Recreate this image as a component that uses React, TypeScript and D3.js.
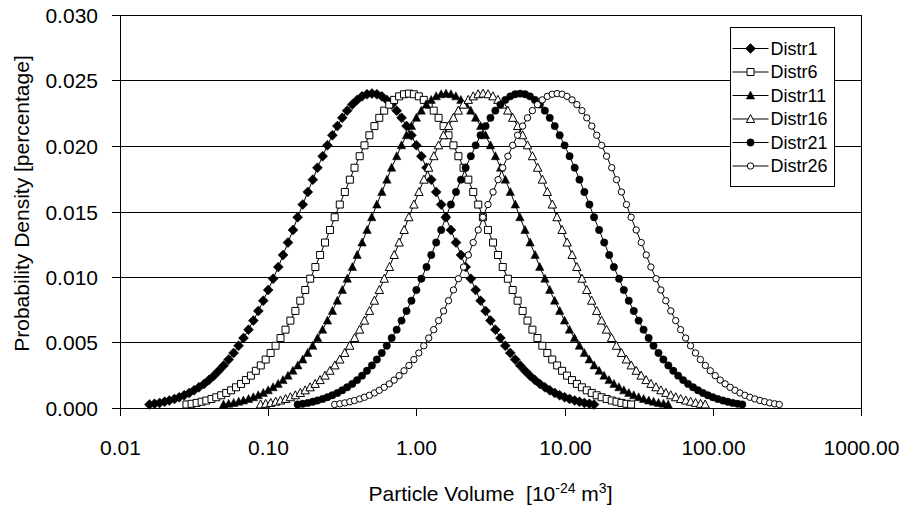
import * as d3 from 'd3';
import { useMemo } from 'react';

// RENDERING SETUP
const W = 906;
const H = 505;
const MARGIN = { TOP: 15, RIGHT: 45, BOTTOM: 97, LEFT: 120 };
const WIDTH = W - MARGIN.LEFT - MARGIN.RIGHT;
const HEIGHT = H - MARGIN.TOP - MARGIN.BOTTOM;
const FONT = '"Liberation Sans", Arial, Helvetica, sans-serif';

// DATA
const SERIES = ['Distr1', 'Distr6', 'Distr11', 'Distr16', 'Distr21', 'Distr26'];
// each distribution is Distr1 moved along the volume axis (peaks ~0.5, 0.89, 1.58, 2.81, 5.0, 8.9)
const SHIFT = [1, 1.778, 3.162, 5.623, 10, 17.78];
// volume bins of Distr1 [10^-24 m^3]
const VOLUME = [
  0.0158, 0.0171, 0.0185, 0.02, 0.0215, 0.0233, 0.0251, 0.0271, 0.0293, 0.0316,
  0.0341, 0.0369, 0.0398, 0.043, 0.0464, 0.0501, 0.0541, 0.0584, 0.0631, 0.0681,
  0.0736, 0.0794, 0.0858, 0.0926,
  0.1, 0.108, 0.117, 0.126, 0.136, 0.147, 0.158, 0.171, 0.185, 0.2,
  0.215, 0.233, 0.251, 0.271, 0.293, 0.316, 0.341, 0.369, 0.398, 0.43,
  0.464, 0.501, 0.541, 0.584, 0.631, 0.681, 0.736, 0.794, 0.858, 0.926,
  1.0, 1.08, 1.17, 1.26, 1.36, 1.47, 1.58, 1.71, 1.85, 2.0,
  2.15, 2.33, 2.51, 2.71, 2.93, 3.16, 3.41, 3.69, 3.98, 4.3,
  4.64, 5.01, 5.41, 5.84, 6.31, 6.81, 7.36, 7.94, 8.58, 9.26,
  10.0, 10.8, 11.7, 12.6, 13.6, 14.7, 15.8,
];
// probability density on those bins (same shape for every distribution)
const DENSITY = [
  0.00027, 0.00032, 0.00039, 0.00048, 0.00057, 0.00069, 0.00082, 0.00097, 0.00115, 0.00135,
  0.00158, 0.00184, 0.00213, 0.00247, 0.00284, 0.00325, 0.0037, 0.0042, 0.00475, 0.00534,
  0.00598, 0.00667, 0.00741, 0.00819, 0.00901, 0.00987, 0.01076, 0.01168, 0.01263, 0.01359,
  0.01456, 0.01553, 0.01649, 0.01743, 0.01834, 0.01922, 0.02005, 0.02082, 0.02152, 0.02215,
  0.0227, 0.02316, 0.02352, 0.02379, 0.02395, 0.024,
  0.02395, 0.02379, 0.02352, 0.02316, 0.0227, 0.02215, 0.02152, 0.02082, 0.02005, 0.01922,
  0.01834, 0.01743, 0.01649, 0.01553, 0.01456, 0.01359, 0.01263, 0.01168, 0.01076, 0.00987,
  0.00901, 0.00819, 0.00741, 0.00667, 0.00598, 0.00534, 0.00475, 0.0042, 0.0037, 0.00325,
  0.00284, 0.00247, 0.00213, 0.00184, 0.00158, 0.00135, 0.00115, 0.00097, 0.00082, 0.00069,
  0.00057, 0.00048, 0.00039, 0.00032, 0.00027,
];
const X_TICKS = [0.01, 0.1, 1, 10, 100, 1000];
const X_LABELS = ['0.01', '0.10', '1.00', '10.00', '100.00', '1000.00'];
const Y_TICKS = [0, 0.005, 0.01, 0.015, 0.02, 0.025, 0.03];

// marker style per series
const SHAPE = ['diamond', 'square', 'triangle', 'triangle', 'circle', 'circle'];
const FILLED = [true, false, true, false, true, false];

const markerPath = (shape: string, filled: boolean) => {
  if (shape === 'diamond') return 'M0,-5L5,0L0,5L-5,0Z';
  if (shape === 'square') return 'M-3.5,-3.5H3.5V3.5H-3.5Z';
  if (shape === 'triangle') return 'M0,-4.5L4.2,3.5L-4.2,3.5Z';
  const r = filled ? 3.7 : 3.2;
  return `M${-r},0A${r},${r} 0 1,0 ${r},0A${r},${r} 0 1,0 ${-r},0Z`;
};

const Marker = ({ i, x, y }: { i: number; x: number; y: number }) => (
  <path
    d={markerPath(SHAPE[i], FILLED[i])}
    transform={`translate(${x},${y})`}
    fill={FILLED[i] ? '#000' : '#fff'}
    stroke="#000"
    strokeWidth={FILLED[i] ? 0.5 : 1}
  />
);

export default function App() {
  const x = useMemo(() => d3.scaleLog().domain([0.01, 1000]).range([0, WIDTH]), []);
  const y = useMemo(() => d3.scaleLinear().domain([0, 0.03]).range([HEIGHT, 0]), []);

  const data = useMemo(
    () =>
      SERIES.map((name, s) => ({
        name,
        points: VOLUME.map((v, i) => ({ v: v * SHIFT[s], p: DENSITY[i] })),
      })),
    []
  );

  const line = d3
    .line<{ v: number; p: number }>()
    .x((d) => x(d.v))
    .y((d) => y(d.p));

  const fmt = d3.format('.3f');

  return (
    <svg
      width={W}
      height={H}
      style={{ position: 'absolute', left: 0, top: 0, background: '#fff' }}
      fontFamily={FONT}
    >
      <g transform={`translate(${MARGIN.LEFT},${MARGIN.TOP})`}>
        {/* gridlines + y ticks */}
        {Y_TICKS.map((t) => (
          <g key={t} transform={`translate(0,${Math.round(y(t)) + 0.5})`}>
            <line x1={-8} x2={WIDTH} stroke="#000" strokeWidth={1} />
            <text x={-22} dy="0.35em" textAnchor="end" fontSize={21}>
              {fmt(t)}
            </text>
          </g>
        ))}
        {/* plot border */}
        <rect x={0.5} y={0.5} width={WIDTH} height={HEIGHT} fill="none" stroke="#000" strokeWidth={1} />
        {/* x ticks */}
        {X_TICKS.map((t, i) => (
          <g key={t} transform={`translate(${Math.round(x(t)) + 0.5},${HEIGHT})`}>
            <line y1={0} y2={8} stroke="#000" strokeWidth={1} />
            <text y={47} textAnchor="middle" fontSize={21}>
              {X_LABELS[i]}
            </text>
          </g>
        ))}

        {/* series */}
        {data.map((s, si) => (
          <g key={s.name}>
            <path d={line(s.points) ?? ''} fill="none" stroke="#000" strokeWidth={1} />
            {s.points.map((d, i) => (
              <Marker key={i} i={si} x={x(d.v)} y={y(d.p)} />
            ))}
          </g>
        ))}

        {/* axis titles */}
        <text
          transform={`translate(${29 - MARGIN.LEFT},${HEIGHT / 2 - 8}) rotate(-90)`}
          textAnchor="middle"
          fontSize={21}
        >
          Probability Density [percentage]
        </text>
        <text x={WIDTH / 2} y={HEIGHT + 93} textAnchor="middle" fontSize={21} style={{ whiteSpace: 'pre' }}>
          {'Particle Volume  [10'}
          <tspan fontSize={14} dy={-8}>
            -24
          </tspan>
          <tspan dy={8}>{' m'}</tspan>
          <tspan fontSize={14} dy={-8}>
            3
          </tspan>
          <tspan dy={8}>]</tspan>
        </text>
      </g>

      {/* legend */}
      <g transform="translate(730.5,27.5)">
        <rect width={104} height={159} fill="#fff" stroke="#000" strokeWidth={1} />
        {SERIES.map((name, i) => (
          <g key={name} transform={`translate(0,${21 + i * 23.5})`}>
            <line x1={2} x2={38} stroke="#000" strokeWidth={1} />
            <Marker i={i} x={20} y={0} />
            <text x={40} dy="0.35em" fontSize={18}>
              {name}
            </text>
          </g>
        ))}
      </g>
    </svg>
  );
}
